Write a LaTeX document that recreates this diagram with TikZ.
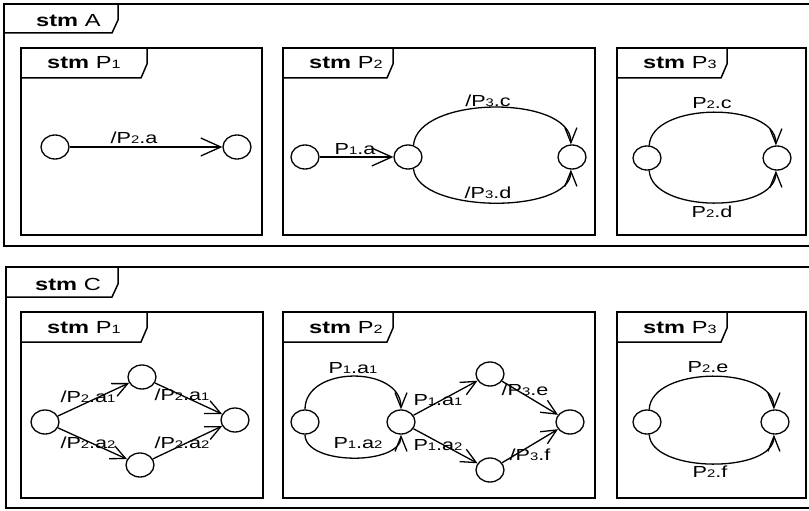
\documentclass[tikz,border=0pt]{standalone}
\usepackage{fontspec}
\setmainfont{Liberation Sans}[FakeStretch=1.35]
\usetikzlibrary{arrows.meta,shapes.geometric}
\newcommand\dg[1]{{\fontsize{11}{11}\selectfont #1}}
\newcommand\umlinner[6]{%
  \draw[fr] (#1,#2) rectangle (#3,#4);
  \draw[fr] (#1,#2+30) -- (#5-6,#2+30) -- (#5,#2+16) -- (#5,#2);
  \node[ttl] (#6) at (#1+26,#2+21) {\textbf{stm} P{\fontsize{12}{12}\selectfont\csname dig#6\endcsname}};
}
\begin{document}
\begin{tikzpicture}[x=1pt,y=-1pt,
  st/.style={ellipse,draw,line width=1.3pt,minimum width=28pt,minimum height=24pt,inner sep=0pt},
  trbig/.style={line width=1.3pt,-{Straight Barb[length=20pt,width=18pt,line width=1.3pt]}},
  tr/.style={line width=1.3pt,-{Straight Barb[length=15pt,width=14pt,line width=1.3pt]}},
  arc/.style={line width=1.3pt,-{Straight Barb[length=15pt,width=12pt,line width=1.3pt]}},
  lbl/.style={font=\fontsize{16}{16}\selectfont,inner sep=0pt},
  fr/.style={line width=1.5pt},
  ttl/.style={anchor=base west,font=\fontsize{17.5}{17.5}\selectfont,inner sep=0pt}]
\useasboundingbox (0,0) rectangle (809,511);
\def\digtPa{1}\def\digtPb{2}\def\digtPc{3}
\def\digbPa{1}\def\digbPb{2}\def\digbPc{3}
% ---------- frame A ----------
\draw[fr] (815,4) -- (4,4) -- (4,246) -- (815,246);
\draw[fr] (4,33) -- (112,33) -- (118,20) -- (118,4);
\node[ttl] (tA) at (36,27) {\textbf{stm} A};
\umlinner{21}{48}{262}{235}{147}{tPa}
\umlinner{283}{48}{595}{235}{393}{tPb}
\umlinner{617}{48}{806}{235}{727}{tPc}
% P1
\node[st] (a1) at (55,147) {};
\node[st] (a2) at (237,147) {};
\draw[trbig] (a1) -- (a2);
\node[lbl] (la) at (134,138) {/P\dg{2}.a};
% P2
\node[st] (b1) at (305,157) {};
\node[st] (b2) at (408,157) {};
\node[st] (b3) at (572,157) {};
\draw[trbig] (b1) -- (b2);
\node[lbl] (lb1) at (355,149) {P\dg{1}.a};
\draw[arc] (b2.65) .. controls +(4,-50) and +(0,-50) .. (b3.95);
\draw[arc] (b2.-65) .. controls +(4,45) and +(0,45) .. (b3.-95);
\node[lbl] (lb2) at (488,101) {/P\dg{3}.c};
\node[lbl] (lb3) at (488,193) {/P\dg{3}.d};
% P3
\node[st] (c1) at (647,158) {};
\node[st] (c2) at (777,158) {};
\draw[arc] (c1.80) .. controls +(2,-44) and +(0,-44) .. (c2.95);
\draw[arc] (c1.-80) .. controls +(2,43) and +(0,43) .. (c2.-95);
\node[lbl] (lc1) at (712,103) {P\dg{2}.c};
\node[lbl] (lc2) at (712,212) {P\dg{2}.d};
% ---------- frame C ----------
\draw[fr] (815,267) -- (6,267) -- (6,508) -- (815,508);
\draw[fr] (6,297) -- (112,297) -- (118,284) -- (118,267);
\node[ttl] (tC) at (35,290) {\textbf{stm} C};
\umlinner{21}{312}{263}{498}{147}{bPa}
\umlinner{283}{312}{595}{498}{393}{bPb}
\umlinner{617}{312}{806}{498}{727}{bPc}
% P1
\node[st] (d1) at (45,422) {};
\node[st] (d2) at (142,377) {};
\node[st] (d3) at (140,465) {};
\node[st] (d4) at (235,420) {};
\draw[tr] (d1) -- (d2);
\draw[tr] (d1) -- (d3);
\draw[tr] (d2) -- (d4);
\draw[tr] (d3) -- (d4);
\node[lbl] (ld1) at (88,397) {/P\dg{2}.a\dg{1}};
\node[lbl] (ld2) at (88,443) {/P\dg{2}.a\dg{2}};
\node[lbl] (ld3) at (182,395) {/P\dg{2}.a\dg{1}};
\node[lbl] (ld4) at (182,443) {/P\dg{2}.a\dg{2}};
% P2
\node[st] (e1) at (305,422) {};
\node[st] (e2) at (401,422) {};
\node[st] (e3) at (490,374) {};
\node[st] (e4) at (490,470) {};
\node[st] (e5) at (570,422) {};
\draw[arc] (e1.north) .. controls +(0,-44) and +(0,-44) .. (e2.north);
\draw[arc] (e1.south) .. controls +(0,31) and +(0,31) .. (e2.south);
\draw[tr] (e2) -- (e3);
\draw[tr] (e2) -- (e4);
\draw[tr] (e3) -- (e5);
\draw[tr] (e4) -- (e5);
\node[lbl] (le1) at (353,368) {P\dg{1}.a\dg{1}};
\node[lbl] (le2) at (358,443) {P\dg{1}.a\dg{2}};
\node[lbl] (le3) at (438,400) {P\dg{1}.a\dg{1}};
\node[lbl] (le4) at (438,445) {P\dg{1}.a\dg{2}};
\node[lbl] (le5) at (525,390) {/P\dg{3}.e};
\node[lbl] (le6) at (530,455) {/P\dg{3}.f};
% P3
\node[st] (f1) at (647,422) {};
\node[st] (f2) at (775,422) {};
\draw[arc] (f1.80) .. controls +(2,-44) and +(0,-44) .. (f2.95);
\draw[arc] (f1.-80) .. controls +(2,39) and +(0,39) .. (f2.-95);
\node[lbl] (lf1) at (708,367) {P\dg{2}.e};
\node[lbl] (lf2) at (710,472) {P\dg{2}.f};
\end{tikzpicture}
\end{document}
